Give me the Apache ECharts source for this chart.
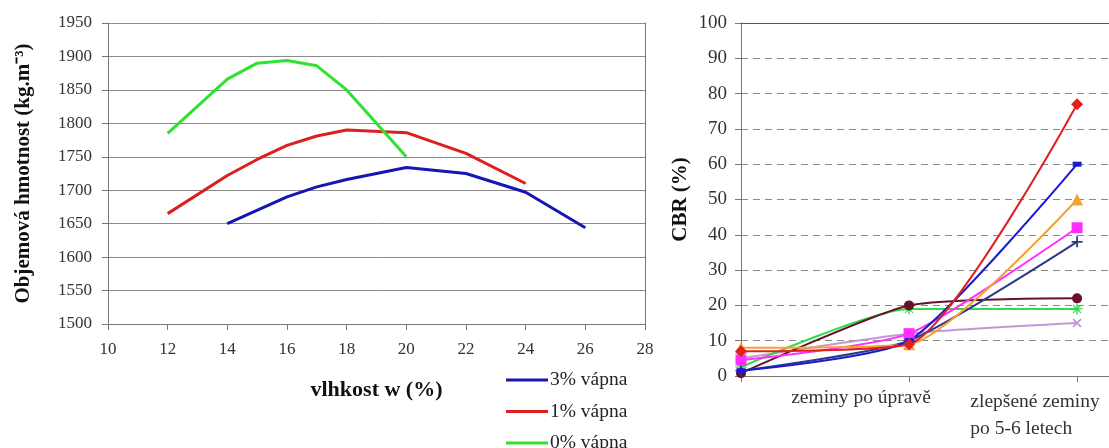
<!DOCTYPE html>
<html><head><meta charset="utf-8">
<script src="https://cdn.jsdelivr.net/npm/echarts@6/dist/echarts.min.js"></script>
<style>html,body{margin:0;padding:0;background:#fff}#c{width:1109px;height:448px}</style>
</head><body><div id="c"></div>
<script>
// ---- Left chart data: bulk density vs moisture ----
const w3 = [14, 16, 17, 18, 20, 22, 24, 26];
const rho3 = [1650, 1690, 1705, 1716, 1734, 1725, 1697, 1644];
const w1 = [12, 14, 15, 16, 17, 18, 20, 22, 24];
const rho1 = [1665, 1722, 1746, 1767, 1781, 1790, 1786, 1755, 1710];
const w0 = [12, 14, 15, 16, 17, 18, 20];
const rho0 = [1785, 1866, 1890, 1894, 1886, 1850, 1750];
const leftNames = ['3% vápna', '1% vápna', '0% vápna'];

// ---- Right chart data: CBR ----
const stageLabels = ['', 'zeminy po úpravě', 'zlepšené zeminy\npo 5-6 letech'];
const cbrRed = [7, 9, 77];
const cbrBlue = [1.5, 10, 60];
const cbrOrange = [8, 9, 50];
const cbrMagenta = [4.5, 12, 42];
const cbrNavy = [1.5, 10, 38];
const cbrMaroon = [0.8, 20, 22];
const cbrGreen = [2.5, 19, 19];
const cbrLavender = [5, 12, 15];

const SERIF = 'Liberation Serif';
const zip = (xs, ys) => xs.map((x, i) => [x, ys[i]]);
const plusPath = 'path://M4.2,0h1.6v4.2h4.2v1.6h-4.2v4.2h-1.6v-4.2h-4.2v-1.6h4.2z';
const starPath = 'path://M0,4.4h10v1.2h-10z M4.4,0h1.2v10h-1.2z M1,1.8L1.8,1L9,8.2L8.2,9z M9,1.8L1.8,9L1,8.2L8.2,1z';

function cbrSeries(name, vals, color, symbol, size, rotate) {
  return {
    name: name, type: 'line', xAxisIndex: 1, yAxisIndex: 2,
    data: vals.map((v, i) => [i, v]),
    smooth: 0.2, symbol: symbol, symbolSize: size, symbolRotate: rotate || 0,
    showAllSymbol: true,
    lineStyle: { color: color, width: 2 },
    itemStyle: { color: color, opacity: 1 },
    z: 3
  };
}

const chart = echarts.init(document.getElementById('c'), null, { renderer: 'canvas' });
chart.setOption({
  animation: false,
  backgroundColor: '#fff',
  textStyle: { fontFamily: SERIF },
  grid: [
    { left: 108, top: 23, width: 537, height: 301, outerBoundsMode: 'none', containLabel: false },
    { left: 741, top: 23, width: 368, height: 353, outerBoundsMode: 'none', containLabel: false }
  ],
  legend: {
    data: leftNames, orient: 'vertical', left: 506, top: 370, height: 140, padding: 0,
    icon: 'rect', itemWidth: 42, itemHeight: 3, itemGap: 11.5,
    textStyle: { fontFamily: SERIF, fontSize: 19.5, lineHeight: 20, color: '#222', padding: [0, 0, 0, -3] }
  },
  xAxis: [
    { type: 'value', gridIndex: 0, min: 10, max: 28, interval: 2,
      name: 'vlhkost w (%)', nameLocation: 'middle', nameGap: 55,
      nameTextStyle: { fontFamily: SERIF, fontSize: 22, fontWeight: 'bold', color: '#111' },
      axisLine: { lineStyle: { color: '#777' } },
      axisTick: { show: true, length: 6, lineStyle: { color: '#777' } },
      axisLabel: { fontFamily: SERIF, fontSize: 17, color: '#333', margin: 17 },
      splitLine: { show: false } },
    { type: 'value', gridIndex: 1, min: 0, max: 2.19, interval: 1,
      axisLine: { lineStyle: { color: '#777' } },
      axisTick: { show: true, length: 6, lineStyle: { color: '#777' }, customValues: [0, 1, 2] },
      axisLabel: {
        customValues: [1, 2],
        fontFamily: SERIF, fontSize: 19.5, color: '#333', margin: 12,
        formatter: function (v) {
          if (v === 1) return '{a|' + stageLabels[1] + '}';
          if (v === 2) return stageLabels[2].split('\n').map(s => '{b|' + s + '}').join('\n');
          return '';
        },
        rich: {
          a: { fontFamily: SERIF, fontSize: 19.5, color: '#333', padding: [0, 96, 0, 0] },
          b: { fontFamily: SERIF, fontSize: 19.5, color: '#333', align: 'left', lineHeight: 27, padding: [0, 84, 0, 0] }
        }
      },
      splitLine: { show: false } },
    { type: 'value', gridIndex: 1, position: 'top', min: 0, max: 2.19,
      axisLine: { show: true, lineStyle: { color: '#555' } },
      axisTick: { show: false }, axisLabel: { show: false }, splitLine: { show: false } }
  ],
  yAxis: [
    { type: 'value', gridIndex: 0, min: 1500, max: 1950, interval: 50,
      name: 'Objemová hmotnost (kg.m⁻³)', nameLocation: 'middle', nameGap: 74,
      nameTextStyle: { fontFamily: SERIF, fontSize: 21, fontWeight: 'bold', color: '#111' },
      axisLine: { show: true, lineStyle: { color: '#777' } },
      axisTick: { show: true, length: 6, lineStyle: { color: '#777' } },
      axisLabel: { fontFamily: SERIF, fontSize: 17, color: '#333', margin: 16, formatter: v => String(v) },
      splitLine: { show: true, lineStyle: { color: '#8a8a8a', width: 1 } } },
    { type: 'value', gridIndex: 0, position: 'right', min: 1500, max: 1950,
      axisLine: { show: true, lineStyle: { color: '#777' } },
      axisTick: { show: false }, axisLabel: { show: false }, splitLine: { show: false } },
    { type: 'value', gridIndex: 1, min: 0, max: 100, interval: 10,
      name: 'CBR (%)', nameLocation: 'middle', nameGap: 50,
      nameTextStyle: { fontFamily: SERIF, fontSize: 21, fontWeight: 'bold', color: '#111' },
      axisLine: { show: true, lineStyle: { color: '#777' } },
      axisTick: { show: true, length: 6, lineStyle: { color: '#777' } },
      axisLabel: { fontFamily: SERIF, fontSize: 19, color: '#333', margin: 14, formatter: v => String(v) },
      splitLine: { show: true, lineStyle: { color: '#888', width: 1.2, type: [7, 5] } } }
  ],
  series: [
    { name: leftNames[0], type: 'line', xAxisIndex: 0, yAxisIndex: 0, data: zip(w3, rho3),
      symbol: 'none', lineStyle: { color: '#1616b4', width: 3 }, itemStyle: { color: '#1616b4' } },
    { name: leftNames[1], type: 'line', xAxisIndex: 0, yAxisIndex: 0, data: zip(w1, rho1),
      symbol: 'none', lineStyle: { color: '#dc1f1f', width: 3 }, itemStyle: { color: '#dc1f1f' } },
    { name: leftNames[2], type: 'line', xAxisIndex: 0, yAxisIndex: 0, data: zip(w0, rho0),
      symbol: 'none', lineStyle: { color: '#2fe22f', width: 3 }, itemStyle: { color: '#2fe22f' } },

    cbrSeries('CBR 8', cbrLavender, '#c496d6', plusPath, 11, 45),
    cbrSeries('CBR 7', cbrGreen, '#2fdc4a', starPath, 11),
    cbrSeries('CBR 6', cbrMaroon, '#6a0f2c', 'circle', 10),
    cbrSeries('CBR 5', cbrNavy, '#2c3a85', plusPath, 11),
    cbrSeries('CBR 4', cbrMagenta, '#ff30ff', 'rect', 11),
    cbrSeries('CBR 3', cbrOrange, '#f2a236', 'triangle', 12),
    cbrSeries('CBR 2', cbrBlue, '#1a1ad0', 'rect', [9, 5]),
    cbrSeries('CBR 1', cbrRed, '#e02020', 'diamond', 12)
  ]
});
</script></body></html>
